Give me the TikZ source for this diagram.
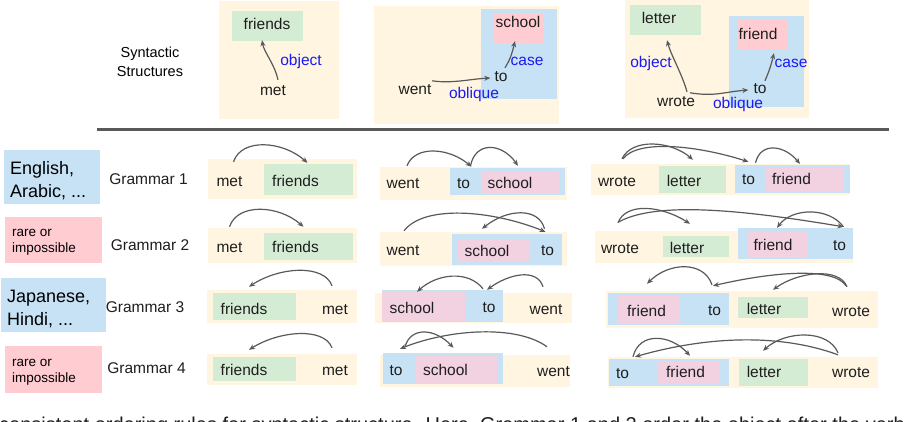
\documentclass[tikz,border=0pt]{standalone}
\usepackage{fontspec}
\setmainfont{Liberation Sans}
\usetikzlibrary{arrows.meta}
\definecolor{boxbeige}{HTML}{FFF5E1}
\definecolor{boxgreen}{HTML}{D4EBD4}
\definecolor{boxblue}{HTML}{C7E2F4}
\definecolor{boxpink}{HTML}{FFCCD2}
\definecolor{boxmauve}{HTML}{F2D2E0}
\definecolor{relblue}{HTML}{1A1AF5}
\definecolor{arcgray}{HTML}{595959}
\definecolor{wordblack}{HTML}{1E1E1E}
\begin{document}
\begin{tikzpicture}[x=1pt,y=-1pt,
    word/.style={font=\fontsize{15.5}{18}\selectfont,text=wordblack,inner sep=0pt,
      text height=11pt,text depth=3pt,anchor=base},
    rel/.style={font=\fontsize{15.5}{18}\selectfont,text=relblue,inner sep=0pt,anchor=base},
    dep/.style={draw=arcgray,line width=1.2pt,-{Stealth[length=6pt,width=5pt]}},
    lang/.style={font=\fontsize{18}{22.5}\selectfont,align=left,inner sep=0pt,anchor=base west},
    rare/.style={font=\fontsize{13.5}{15.5}\selectfont,align=left,inner sep=0pt,anchor=base west}]
      \useasboundingbox (0,0) rectangle (920,422);
      \clip (0,0) rectangle (920,422);

      % syntactic structures
      \fill[boxbeige] (219,1) rectangle (339,119);
      \fill[boxgreen] (232,11) rectangle (303,41);
      \fill[boxbeige] (374,6) rectangle (559,124);
      \fill[boxblue] (481,9) rectangle (557,99);
      \fill[boxpink] (494,14) rectangle (543,43);
      \fill[boxbeige] (625,0) rectangle (809,118);
      \fill[boxgreen] (630,5) rectangle (701,35);
      \fill[boxblue] (729,16) rectangle (804,107);
      \fill[boxpink] (738,19) rectangle (788,49);
      \draw[arcgray,line width=3pt] (97,130) -- (889,130);

      \node[font=\fontsize{14.5}{19}\selectfont,align=center,inner sep=0pt,anchor=base]
            (synlabel) at (150,77) {Syntactic\\Structures};

      \node[word] (tafriends) at (267,30) {friends};
      \node[word] (tamet) at (273,96) {met};
      \node[rel] (taobject) at (301,66) {object};
      \node[word] (tbwent) at (415,95) {went};
      \node[word] (tbto) at (501,82) {to};
      \node[word] (tbschool) at (518,28) {school};
      \node[rel] (tboblique) at (474,99) {oblique};
      \node[rel] (tbcase) at (527,66) {case};
      \node[word] (tcletter) at (659,24) {letter};
      \node[word] (tcfriend) at (758,40) {friend};
      \node[word] (tcto) at (760,94) {to};
      \node[word] (tcwrote) at (676,107) {wrote};
      \node[rel] (tcobject) at (651,68) {object};
      \node[rel] (tccase) at (791,68) {case};
      \node[rel] (tcoblique) at (738,109) {oblique};

      \draw[dep] ([shift={(5,-5)}]tamet.north)
            .. controls +(-3,-15) and +(2,12) .. ([shift={(-5,7)}]tafriends.south);
      \draw[dep] ([shift={(17,-3)}]tbwent.north)
            .. controls +(20,3) and +(-20,1) .. ([xshift=-4pt]tbto.west);
      \draw[dep] ([shift={(4,-3)}]tbto.north)
            .. controls +(6,-10) and +(-3,12) .. ([shift={(-3,10)}]tbschool.south);
      \draw[dep] ([shift={(11,-4)}]tcwrote.north)
            .. controls +(-5,-18) and +(4,15) .. ([shift={(8,13)}]tcletter.south);
      \draw[dep] ([shift={(14,-3)}]tcwrote.north)
            .. controls +(25,4) and +(-25,2) .. ([xshift=-5pt]tcto.west);
      \draw[dep] ([shift={(5,-2)}]tcto.north)
            .. controls +(5,-12) and +(-3,12) .. ([shift={(16,10)}]tcfriend.south);

      % languages and grammars
      \fill[boxblue] (4,150) rectangle (100,204);
      \fill[boxpink] (5,217) rectangle (102,263);
      \fill[boxblue] (1,278) rectangle (106,332);
      \fill[boxpink] (5,346) rectangle (102,393);
      \node[lang] (langA) at (10,197) {English,\\Arabic, ...};
      \node[rare] (rareA) at (12,252) {rare or\\impossible};
      \node[lang] (langB) at (7,325) {Japanese,\\Hindi, ...};
      \node[rare] (rareB) at (12,382) {rare or\\impossible};
      \node[word] (gramA) at (148.5,185) {Grammar 1};
      \node[word] (gramB) at (150,250) {Grammar 2};
      \node[word] (gramC) at (145,312) {Grammar 3};
      \node[word] (gramD) at (146.5,373) {Grammar 4};

      % met friends
      \fill[boxbeige] (208,159) rectangle (357,199);
      \fill[boxgreen] (264,164) rectangle (353,195);
      \fill[boxbeige] (208,228) rectangle (357,263);
      \fill[boxgreen] (264,233) rectangle (353,260);
      \fill[boxbeige] (207,290) rectangle (357,323);
      \fill[boxgreen] (213,293) rectangle (296,320);
      \fill[boxbeige] (207,354) rectangle (357,385);
      \fill[boxgreen] (213,357) rectangle (296,381);

      \node[word] (a1met) at (229.5,186) {met};
      \node[word] (a1friends) at (295.5,186) {friends};
      \node[word] (a2met) at (229.5,252) {met};
      \node[word] (a2friends) at (295.5,252) {friends};
      \node[word] (a3friends) at (244,314) {friends};
      \node[word] (a3met) at (335,314) {met};
      \node[word] (a4friends) at (244,375) {friends};
      \node[word] (a4met) at (335,375) {met};

      \draw[dep] ([shift={(4,-13)}]a1met.north)
            .. controls +(8,-24) and +(-25,-22) .. ([shift={(12,-12)}]a1friends.north);
      \draw[dep] ([shift={(0,-14)}]a2met.north)
            .. controls +(8,-24) and +(-25,-22) .. ([shift={(8,-14)}]a2friends.north);
      \draw[dep] ([shift={(-3,-17)}]a3met.north)
            .. controls +(-8,-22) and +(30,-20) .. ([shift={(5,-16)}]a3friends.north);
      \draw[dep] ([shift={(-3,-16)}]a4met.north)
            .. controls +(-8,-21) and +(30,-19) .. ([shift={(5,-14)}]a4friends.north);

      % went to school
      \fill[boxbeige] (380,167) rectangle (567,200);
      \fill[boxblue] (450,168) rectangle (565,195);
      \fill[boxmauve] (481,171) rectangle (559,193);
      \fill[boxbeige] (380,232) rectangle (567,266);
      \fill[boxblue] (452,234) rectangle (562,265);
      \fill[boxmauve] (458,239) rectangle (530,261);
      \fill[boxbeige] (375,293) rectangle (572,323);
      \fill[boxblue] (382,290) rectangle (503,322);
      \fill[boxmauve] (382,292) rectangle (465,322);
      \fill[boxbeige] (380,355) rectangle (570,387);
      \fill[boxblue] (383,353) rectangle (503,384);
      \fill[boxmauve] (415,356) rectangle (498,384);

      \node[word] (b1went) at (403,189) {went};
      \node[word] (b1to) at (463.5,189) {to};
      \node[word] (b1school) at (510,189) {school};
      \node[word] (b2went) at (403,255) {went};
      \node[word] (b2school) at (487,256) {school};
      \node[word] (b2to) at (547.5,255) {to};
      \node[word] (b3school) at (412,313) {school};
      \node[word] (b3to) at (489,312) {to};
      \node[word] (b3went) at (546,314) {went};
      \node[word] (b4to) at (396,375) {to};
      \node[word] (b4school) at (445.5,375) {school};
      \node[word] (b4went) at (553.5,376) {went};

      \draw[dep] ([shift={(4,-12)}]b1went.north)
            .. controls +(8,-21) and +(-22,-19) .. ([shift={(8,-11)}]b1to.north);
      \draw[dep] ([shift={(7,-12)}]b1to.north)
            .. controls +(5,-25) and +(-16,-23) .. ([shift={(8,-12)}]b1school.north);
      \draw[dep] ([shift={(1,-13)}]b2went.north)
            .. controls +(20,-26) and +(-55,-22) .. ([shift={(-2,-12)}]b2to.north);
      \draw[dep] ([shift={(-3,-15)}]b2to.north)
            .. controls +(-6,-22) and +(25,-20) .. ([shift={(-5,-16)}]b2school.north);
      \draw[dep] ([shift={(-3,-16)}]b3went.north)
            .. controls +(-6,-19) and +(22,-16) .. ([shift={(-2,-11)}]b3to.north);
      \draw[dep] ([shift={(-6,-12)}]b3to.north)
            .. controls +(-15,-19) and +(20,-18) .. ([shift={(5,-10)}]b3school.north);
      \draw[dep] ([shift={(-6.5,-18)}]b4went.north)
            .. controls +(-30,-22) and +(50,-20) .. ([shift={(4,-15)}]b4to.north);
      \draw[dep] ([shift={(9,-17)}]b4to.north)
            .. controls +(6,-21) and +(-18,-19) .. ([shift={(8,-16)}]b4school.north);

      % wrote letter to friend
      \fill[boxbeige] (591,164) rectangle (850,195);
      \fill[boxgreen] (659,166) rectangle (726,193);
      \fill[boxblue] (735,165) rectangle (850,193);
      \fill[boxmauve] (766,168) rectangle (844,191);
      \fill[boxbeige] (595,231) rectangle (853,263);
      \fill[boxgreen] (663,236) rectangle (729,257);
      \fill[boxblue] (738,228) rectangle (853,259);
      \fill[boxmauve] (748,231) rectangle (807,257);
      \fill[boxbeige] (606,291) rectangle (878,328);
      \fill[boxblue] (608,293) rectangle (729,325);
      \fill[boxmauve] (618,296) rectangle (680,323);
      \fill[boxgreen] (738,297) rectangle (808,318);
      \fill[boxbeige] (608,357) rectangle (878,388);
      \fill[boxblue] (609,359) rectangle (729,386);
      \fill[boxmauve] (658,362) rectangle (720,384);
      \fill[boxgreen] (739,359) rectangle (808,386);

      \node[word] (c1wrote) at (617,186) {wrote};
      \node[word] (c1letter) at (684,186) {letter};
      \node[word] (c1to) at (748.5,185) {to};
      \node[word] (c1friend) at (791.5,185) {friend};
      \node[word] (c2wrote) at (620,253) {wrote};
      \node[word] (c2letter) at (687,253) {letter};
      \node[word] (c2friend) at (773,250) {friend};
      \node[word] (c2to) at (839.5,250) {to};
      \node[word] (c3friend) at (646.5,316) {friend};
      \node[word] (c3to) at (714.5,315) {to};
      \node[word] (c3letter) at (764,314) {letter};
      \node[word] (c3wrote) at (851,316) {wrote};
      \node[word] (c4to) at (622.5,378) {to};
      \node[word] (c4friend) at (685.5,377) {friend};
      \node[word] (c4letter) at (764,377) {letter};
      \node[word] (c4wrote) at (851,377) {wrote};

      \draw[dep] ([shift={(5,-16)}]c1wrote.north)
            .. controls +(10,-21) and +(-22,-19) .. ([shift={(9,-15)}]c1letter.north);
      \draw[dep] ([shift={(6,-16)}]c1wrote.north)
            .. controls +(15,-20) and +(-50,-16) .. ([shift={(0,-12)}]c1to.north);
      \draw[dep] ([shift={(7,-11)}]c1to.north)
            .. controls +(5,-21) and +(-16,-19) .. ([shift={(8.5,-10)}]c1friend.north);
      \draw[dep] ([shift={(-2,-19)}]c2wrote.north)
            .. controls +(8,-21) and +(-28,-18) .. ([shift={(3,-18)}]c2letter.north);
      \draw[dep] ([shift={(-1,-20)}]c2wrote.north)
            .. controls +(40,-22) and +(-90,-15) .. ([shift={(4,-12)}]c2to.north);
      \draw[dep] ([shift={(4,-12)}]c2to.north)
            .. controls +(-15,-20) and +(15,-20) .. ([shift={(4,-11)}]c2friend.north);
      \draw[dep] ([shift={(-4,-18)}]c3wrote.north)
            .. controls +(-8,-20) and +(25,-18) .. ([shift={(9,-13)}]c3letter.north);
      \draw[dep] ([shift={(-5,-19)}]c3wrote.north)
            .. controls +(-12,-19) and +(60,-14) .. ([shift={(-1.5,-18)}]c3to.north);
      \draw[dep] ([shift={(-2.5,-19)}]c3to.north)
            .. controls +(-8,-24) and +(22,-22) .. ([shift={(0.5,-21)}]c3friend.north);
      \draw[dep] ([shift={(-13,-13)}]c4wrote.north)
            .. controls +(-10,-24) and +(22,-20) .. ([shift={(-1,-15)}]c4letter.north);
      \draw[dep] ([shift={(-13,-11)}]c4wrote.north)
            .. controls +(-60,-22) and +(70,-20) .. ([shift={(12.5,-10)}]c4to.north);
      \draw[dep] ([shift={(10.5,-10)}]c4to.north)
            .. controls +(6,-25) and +(-20,-22) .. ([shift={(4.5,-10)}]c4friend.north);

      \node[font=\fontsize{20}{24}\selectfont,text=wordblack,inner sep=0pt,anchor=base west]
            (caption) at (-1,431)
            {consistent ordering rules for syntactic structure. Here, Grammar 1 and 2 order the object after the verb};
\end{tikzpicture}
\end{document}
